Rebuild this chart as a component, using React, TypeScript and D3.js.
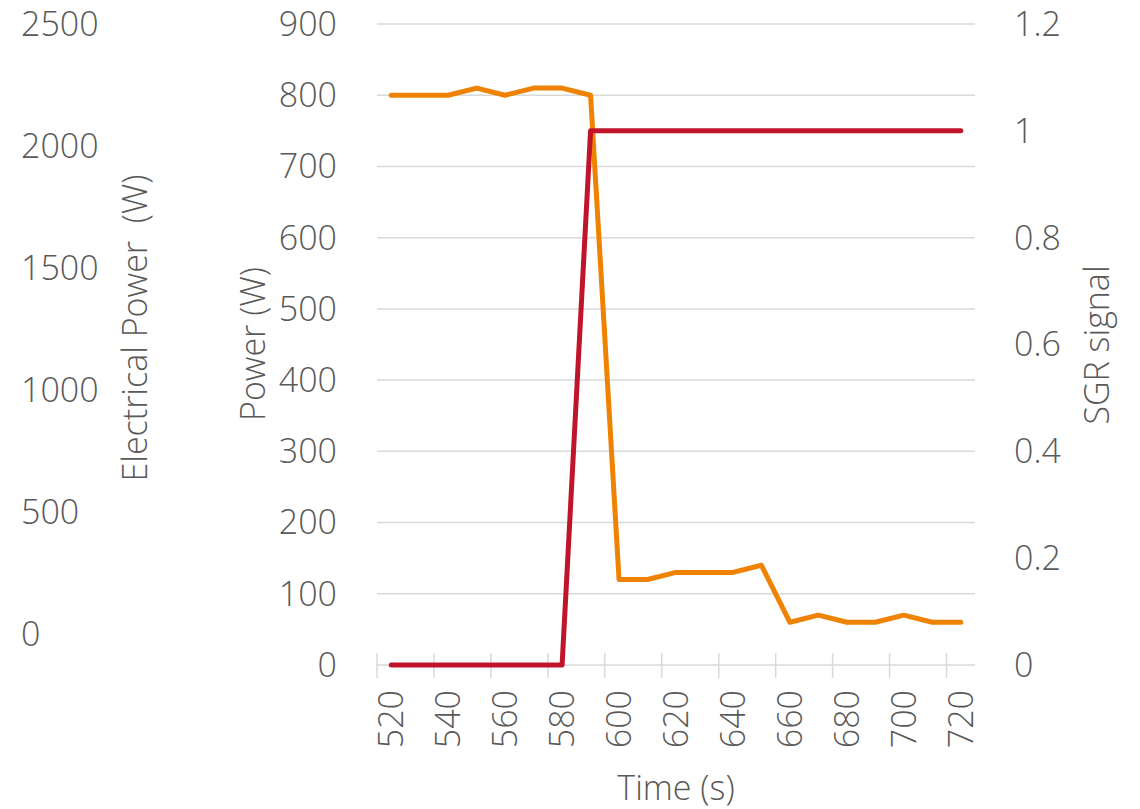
import React from "react";
import * as d3 from "d3";

const times = [520, 530, 540, 550, 560, 570, 580, 590, 600, 610, 620, 630, 640, 650, 660, 670, 680, 690, 700, 710, 720];
const powerValues = [800, 800, 800, 810, 800, 810, 810, 800, 120, 120, 130, 130, 130, 140, 60, 70, 60, 60, 70, 60, 60];
const sgrValues = [0, 0, 0, 0, 0, 0, 0, 1, 1, 1, 1, 1, 1, 1, 1, 1, 1, 1, 1, 1, 1];
const powerTicks = [0, 100, 200, 300, 400, 500, 600, 700, 800, 900];
const elecTicks = [0, 500, 1000, 1500, 2000, 2500];
const sgrTicks = [0, 0.2, 0.4, 0.6, 0.8, 1, 1.2];
const timeLabels = [520, 540, 560, 580, 600, 620, 640, 660, 680, 700, 720];

const W = 1140;
const H = 809;
const left = 377;
const right = 975;
const top = 24;
const bottom = 665;
const FONT = "'Open Sans', 'Segoe UI', sans-serif";
const TXT = "#595959";
const FS = 34;

export default function App() {
  const x = d3.scaleBand<string>().domain(times.map(String)).range([left, right]).padding(0);
  const bw = x.bandwidth();
  const cx = (t: number) => (x(String(t)) as number) + bw / 2;
  const yP = d3.scaleLinear().domain([0, 900]).range([bottom, top]);
  const yE = d3.scaleLinear().domain([0, 2500]).range([634, top]);
  const yS = d3.scaleLinear().domain([0, 1.2]).range([bottom, top]);

  const powerLine = d3
    .line<number>()
    .x((_, i) => cx(times[i]))
    .y((d) => yP(d));
  const sgrLine = d3
    .line<number>()
    .x((_, i) => cx(times[i]))
    .y((d) => yS(d));

  const tickIdx = times.map((t, i) => i).filter((i) => i % 2 === 0);

  return (
    <svg width={W} height={H} style={{ position: "absolute", left: 0, top: 0, background: "#fff" }} fontFamily={FONT}>
      {/* gridlines */}
      {powerTicks.map((v) => (
        <line key={"g" + v} x1={left} x2={right} y1={yP(v)} y2={yP(v)} stroke="#d9d9d9" strokeWidth={1.5} />
      ))}
      {/* x tick marks */}
      {tickIdx.map((i) => {
        const xx = x(String(times[i])) as number;
        return <line key={"t" + i} x1={xx} x2={xx} y1={bottom - 12} y2={bottom + 13} stroke="#d9d9d9" strokeWidth={1.5} />;
      })}
      {/* primary y labels */}
      {powerTicks.map((v) => (
        <text key={"p" + v} x={337} y={yP(v)} dy="0.35em" textAnchor="end" fontSize={FS} fontWeight={300} fill={TXT}>
          {v}
        </text>
      ))}
      {/* electrical power axis labels */}
      {elecTicks.map((v) => (
        <text key={"e" + v} x={21} y={yE(v)} dy="0.35em" textAnchor="start" fontSize={FS} fontWeight={300} fill={TXT}>
          {v}
        </text>
      ))}
      {/* SGR labels */}
      {sgrTicks.map((v) => (
        <text key={"s" + v} x={1014} y={yS(v)} dy="0.35em" textAnchor="start" fontSize={FS} fontWeight={300} fill={TXT}>
          {String(v)}
        </text>
      ))}
      {/* x labels */}
      {timeLabels.map((t) => (
        <text
          key={"x" + t}
          transform={`translate(${cx(t)},690) rotate(-90)`}
          dy="0.35em"
          textAnchor="end"
          fontSize={FS}
          fontWeight={300}
          fill={TXT}
        >
          {t}
        </text>
      ))}
      {/* axis titles */}
      <text transform={`translate(147,328) rotate(-90)`} textAnchor="middle" fontSize={FS} fontWeight={300} fill={TXT} style={{ whiteSpace: "pre" }}>
        {"Electrical Power  (W)"}
      </text>
      <text transform={`translate(265,344) rotate(-90)`} textAnchor="middle" fontSize={FS} fontWeight={300} fill={TXT}>
        Power (W)
      </text>
      <text transform={`translate(1109,345) rotate(-90)`} textAnchor="middle" fontSize={FS} fontWeight={300} fill={TXT}>
        SGR signal
      </text>
      <text x={(left + right) / 2} y={800} textAnchor="middle" fontSize={FS} fontWeight={300} fill={TXT}>
        Time (s)
      </text>
      {/* series */}
      <path d={powerLine(powerValues) || ""} fill="none" stroke="#EF8200" strokeWidth={5} strokeLinejoin="round" strokeLinecap="round" />
      <path d={sgrLine(sgrValues) || ""} fill="none" stroke="#C0142A" strokeWidth={5} strokeLinejoin="round" strokeLinecap="round" />
    </svg>
  );
}
